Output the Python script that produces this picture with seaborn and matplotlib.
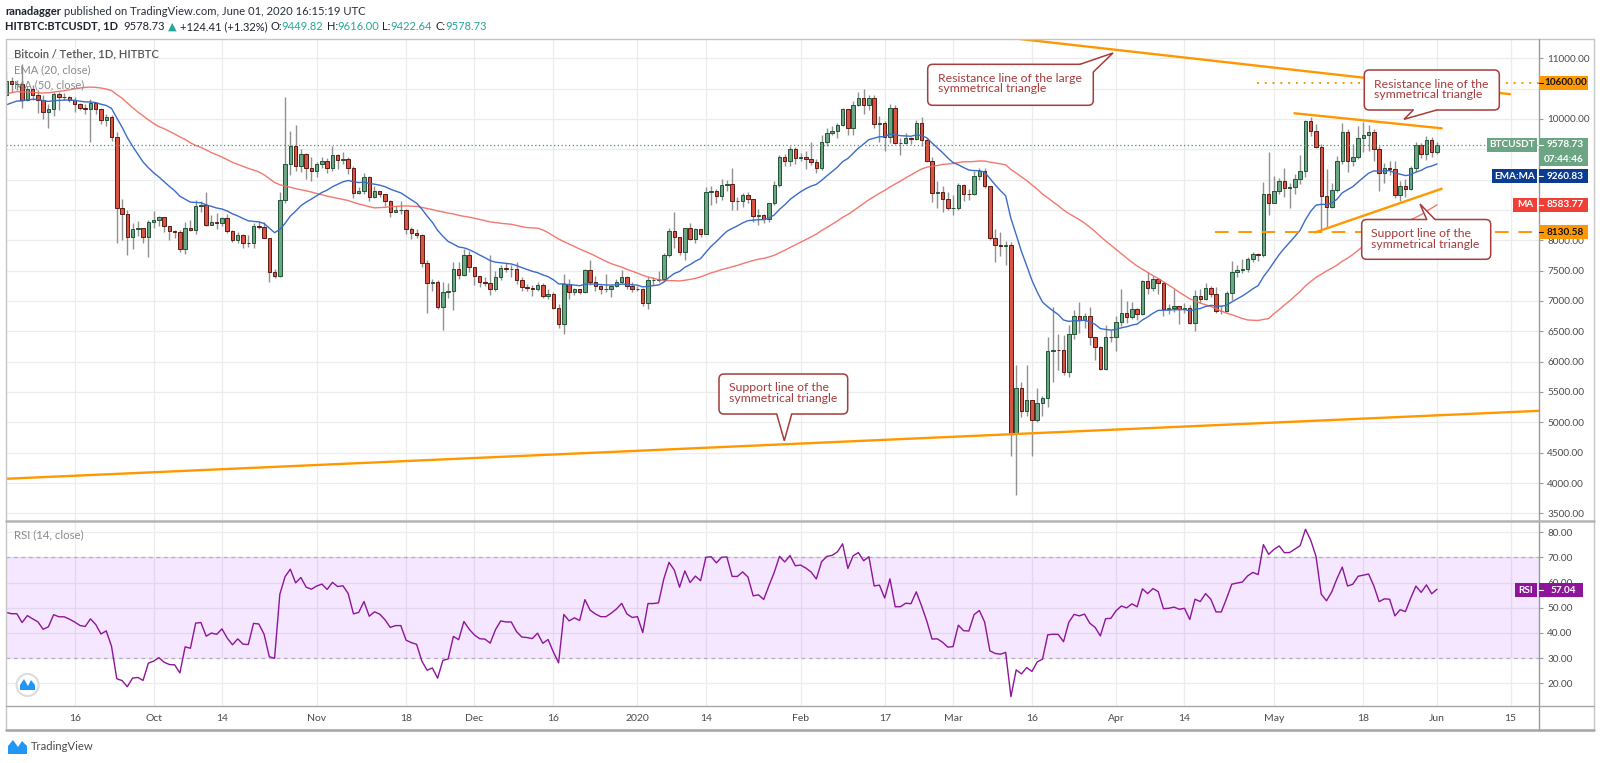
import numpy as np
import pandas as pd
import matplotlib
matplotlib.use("Agg")
import matplotlib.pyplot as plt
import seaborn as sns
from matplotlib.patches import FancyBboxPatch, Polygon, Rectangle, Circle

START = pd.Timestamp("2019-09-03")

# closes Jul 15 - Sep 2 2019 (before the visible window, only to warm up EMA / MA / RSI)
warmup_close = [10860, 9430, 9670, 10630, 10530, 10760, 10590, 10330, 9910, 9840, 9770, 9880, 9470, 9530, 9500, 9590, 10090,
                10400, 10530, 10820, 10980, 11790, 11470, 11980, 11970, 11850, 11280, 11530, 11380, 10880, 10020, 10300, 10360,
                10230, 10340, 10920, 10760, 10130, 10400, 10520, 10140, 10140, 10370, 10190, 9710, 9630, 9600, 9610,
                9760, 10390]

# daily candles Sep 3 2019 - Jun 1 2020, one row per month (open = previous close)
close = [
    10620, 10580, 10580, 10320, 10490, 10400, 10320, 10110, 10160, 10410, 10360, 10360, 10310, 10250, 10180, 10160, 10270, 10170, 9990, 10030, 9710, 8530, 8430, 8060, 8190, 8200, 8050, 8300,
    8330, 8380, 8230, 8150, 8140, 7860, 8210, 8170, 8570, 8580, 8260, 8310, 8280, 8360, 8160, 8000, 8080, 7960, 7950, 8230, 8220, 8030, 7470, 7420, 8660, 9250, 9550, 9230, 9430, 9200, 9150,
    9250, 9310, 9200, 9400, 9320, 9340, 9200, 8780, 8810, 9040, 8720, 8810, 8760, 8640, 8470, 8500, 8500, 8180, 8120, 8080, 7620, 7290, 7320, 6900, 7150, 7170, 7520, 7430, 7750, 7560,
    7410, 7310, 7300, 7200, 7400, 7540, 7520, 7520, 7340, 7230, 7220, 7200, 7260, 7080, 7120, 6880, 6620, 7280, 7150, 7200, 7150, 7510, 7320, 7250, 7200, 7200, 7250, 7310, 7390, 7240, 7190,
    7200, 6960, 7350, 7350, 7360, 7760, 8150, 8050, 7810, 8200, 8020, 8180, 8110, 8800, 8820, 8730, 8910, 8920, 8640, 8640, 8750, 8680, 8400, 8420, 8350, 8610, 8910, 9380, 9300, 9505, 9360,
    9380, 9340, 9290, 9200, 9615, 9770, 9800, 9900, 10160, 9850, 10230, 10340, 10230, 10350, 9910, 9930, 9710, 10175, 9600, 9600, 9680, 9670, 9935, 9660, 9310, 8785, 8790, 8685, 8530,
    8540, 8910, 8770, 8760, 9060, 9140, 8890, 8030, 7930, 7900, 7930, 4800, 5560, 5180, 5370, 5040, 5320, 5400, 6180, 6200, 6190, 5830, 6460, 6750, 6690, 6750, 6400, 6240, 5880, 6400, 6410,
    6650, 6800, 6740, 6860, 6780, 7330, 7210, 7370, 7300, 6870, 6880, 6910, 6860, 6880, 6630, 7080, 7030, 7220, 7110, 6840, 6840, 7125, 7480, 7510, 7535, 7690, 7780, 7750, 8770, 8610,
    8820, 8975, 8870, 8880, 9010, 9140, 9970, 9800, 9535, 8725, 8550, 8830, 9305, 9790, 9300, 9370, 9690, 9735, 9780, 9510, 9105, 9190, 9180, 8740, 8900, 8850, 9200, 9565, 9420, 9650, 9449.82,
    9578.73,
]
high = [
    10790, 10690, 10640, 10900, 10540, 10560, 10480, 10390, 10250, 10450, 10440, 10420, 10380, 10360, 10270, 10250, 10330, 10270, 10180, 10090, 10070, 9780, 8680, 8500, 8290, 8320, 8210, 8330,
    8490, 8400, 8390, 8230, 8170, 8170, 8300, 8330, 8670, 8650, 8790, 8420, 8450, 8390, 8430, 8170, 8130, 8110, 8090, 8290, 8320, 8310, 8040, 7520, 8790, 10370, 9800, 9900, 9500, 9440, 9380,
    9290, 9370, 9360, 9560, 9430, 9450, 9370, 9230, 8880, 9110, 9060, 8900, 8810, 8770, 8660, 8560, 8640, 8510, 8220, 8190, 8100, 7670, 7360, 7340, 7310, 7300, 7650, 7650, 7860, 7830,
    7560, 7420, 7400, 7760, 7490, 7600, 7630, 7600, 7640, 7390, 7280, 7270, 7310, 7300, 7190, 7140, 6950, 7440, 7370, 7220, 7200, 7520, 7680, 7420, 7270, 7440, 7270, 7360, 7510, 7420, 7320,
    7250, 7210, 7400, 7390, 7500, 7790, 8210, 8460, 8040, 8200, 8280, 8200, 8190, 8880, 8900, 8840, 9010, 8990, 9200, 8720, 8780, 8800, 8680, 8520, 8440, 8620, 8980, 9400, 9420, 9560, 9530,
    9440, 9470, 9620, 9340, 9740, 9850, 9880, 9940, 10180, 10150, 10290, 10440, 10500, 10390, 10390, 10050, 9960, 10250, 10230, 9680, 9770, 9700, 9990, 10030, 9680, 9380, 8980, 8890, 8790,
    8750, 8950, 8920, 8850, 9140, 9190, 9200, 8900, 8180, 8140, 7990, 7970, 5950, 5660, 5950, 5370, 5560, 5440, 6400, 6900, 6450, 6440, 6600, 6850, 6980, 6800, 6900, 6300, 6260, 6600, 6520,
    6750, 7200, 7000, 6990, 6880, 7350, 7480, 7420, 7380, 7320, 6950, 7200, 6920, 6970, 6930, 7180, 7200, 7300, 7240, 7230, 6940, 7160, 7660, 7600, 7690, 7720, 7800, 7790, 8960, 9450,
    9060, 9030, 9190, 8950, 9100, 9400, 9990, 10030, 9910, 9580, 9170, 8950, 9390, 9930, 9840, 9590, 9890, 9950, 9900, 9830, 9560, 9270, 9310, 9300, 8980, 9010, 9230, 9620, 9600, 9720, 9700,
    9616.00,
]
low = [
    10380, 10450, 10480, 10180, 10300, 10320, 10100, 10000, 9850, 10050, 10150, 10310, 10280, 10110, 10140, 10080, 9620, 10080, 9920, 9880, 9640, 7950, 8000, 7750, 7860, 8070, 7950, 7720,
    8200, 8230, 8140, 8000, 8040, 7800, 7780, 8150, 8100, 8460, 8230, 8260, 8190, 8240, 8120, 7970, 7960, 7880, 7890, 7880, 8180, 8030, 7320, 7380, 7400, 8620, 9080, 9150, 9120, 9010, 8980,
    9050, 9200, 9110, 9150, 9180, 9250, 9100, 8700, 8770, 8760, 8650, 8700, 8720, 8570, 8380, 8470, 8440, 8100, 8020, 8040, 7560, 6800, 7160, 6860, 6520, 7050, 6850, 7360, 7420, 7480,
    7260, 7230, 7250, 7100, 7170, 7350, 7480, 7400, 7280, 7170, 7160, 7080, 7170, 7050, 7030, 6860, 6560, 6450, 7030, 7100, 7110, 7130, 7270, 7160, 7120, 7150, 7060, 7230, 7280, 7200, 7150,
    7170, 6920, 6870, 7270, 7310, 7350, 7720, 7880, 7760, 7680, 8000, 7960, 8050, 8110, 8580, 8610, 8660, 8810, 8500, 8500, 8550, 8620, 8300, 8250, 8290, 8300, 8580, 8880, 9220, 9220, 9250,
    9310, 9170, 9240, 9110, 9160, 9550, 9730, 9690, 9880, 9740, 9730, 10220, 10080, 10140, 9850, 9620, 9470, 9610, 9590, 9410, 9580, 9580, 9650, 9560, 9290, 8630, 8530, 8460, 8500,
    8410, 8500, 8650, 8670, 8750, 8990, 8860, 8000, 7640, 7740, 7600, 4450, 3800, 5080, 5100, 4450, 5000, 5100, 5260, 5670, 5860, 5780, 5740, 6380, 6480, 6560, 6270, 6030, 5860, 5860, 6330,
    6170, 6580, 6640, 6700, 6680, 6770, 7110, 7160, 7120, 6750, 6780, 6820, 6620, 6800, 6620, 6510, 6960, 7020, 7060, 6800, 6780, 6820, 7020, 7400, 7460, 7470, 7650, 7660, 7720, 8420,
    8620, 8760, 8720, 8540, 8760, 8930, 9050, 9720, 9520, 8130.58, 8200, 8540, 8800, 9260, 9130, 9220, 9340, 9460, 9480, 9300, 8820, 8950, 9070, 8700, 8640, 8710, 8830, 9120, 9350, 9320, 9380,
    9422.64,
]

tick_dates = ["2019-09-16", "2019-10-01", "2019-10-14", "2019-11-01", "2019-11-18", "2019-12-01", "2019-12-16",
              "2020-01-01", "2020-01-14", "2020-02-01", "2020-02-17", "2020-03-01", "2020-03-16", "2020-04-01",
              "2020-04-14", "2020-05-01", "2020-05-18", "2020-06-01", "2020-06-15"]
tick_labels = ["16", "Oct", "14", "Nov", "18", "Dec", "16", "2020", "14", "Feb", "17", "Mar", "16", "Apr",
               "14", "May", "18", "Jun", "15"]
# price labels that sit under the coloured value tags on the axis
hidden_prices = [10500, 9500, 9000, 8500]

# drawings on the chart, (day index, price)
big_res_x, big_res_y = [189, 285.9], [11354, 10409]
big_sup_x, big_sup_y = [-1, 292], [4066, 5192]
tri_res_x, tri_res_y = [244.9, 272.9], [10094, 9846]
tri_sup_x, tri_sup_y = [248.8, 272.9], [8130, 8850]
level_lo, level_lo_from = 8130.58, 229.8
level_hi, level_hi_from = 10600.00, 237.8
last_price, ema_last, ma_last, rsi_last = 9578.73, 9260.83, 8583.77, 57.04

# ---- indicators ----
allc = pd.Series(warmup_close + close, dtype=float)
ema = allc.ewm(span=20, adjust=False).mean()
ma = allc.rolling(50).mean()
d = allc.diff()
gain = d.clip(lower=0).ewm(alpha=1 / 14, adjust=False).mean()
loss = (-d.clip(upper=0)).ewm(alpha=1 / 14, adjust=False).mean()
rsi = 100 - 100 / (1 + gain / loss)
nw = len(warmup_close)
ema, ma, rsi = ema.values[nw:], ma.values[nw:], rsi.values[nw:]

c = np.array(close, float)
o = allc.shift(1).values[nw:]
h = np.maximum(np.array(high, float), np.maximum(o, c))
l = np.minimum(np.array(low, float), np.minimum(o, c))
x = np.arange(len(c))

# ---- figure ----
sns.set_style("white")
plt.rcParams["font.family"] = ["Lato", "DejaVu Sans"]
fig = plt.figure(figsize=(16, 7.63), dpi=100)
W, H = 1600, 763
L, R = 6, 1539
ax = fig.add_axes([L / W, (H - 520.5) / H, (R - L) / W, 481.5 / H])
axr = fig.add_axes([L / W, (H - 706) / H, (R - L) / W, 184.5 / H])
XL = (-0.06, 291.4)
GRID = "#ececec"
LBL = "#4a4a4a"

# price panel
ax.set_xlim(*XL)
ax.set_ylim(3382, 11318)
ax.vlines(x, l, h, color="#909090", lw=1, zorder=2)
up = c >= o
ax.bar(x[up], (c - o)[up], bottom=o[up], width=0.66, color="#6ba583", edgecolor="#225437", lw=0.7, zorder=3)
ax.bar(x[~up], (o - c)[~up], bottom=c[~up], width=0.66, color="#d75442", edgecolor="#5b1a13", lw=0.7, zorder=3)
sns.lineplot(x=x, y=ma, ax=ax, color="#f26a60", lw=1.0, alpha=0.9, zorder=4)
sns.lineplot(x=x, y=ema, ax=ax, color="#3b6cc8", lw=1.0, zorder=4)
ax.axhline(last_price, color="#3d9a62", ls=(0, (1, 2)), lw=0.9, zorder=5)

org = "#ff9800"
for xs, ys in [(big_res_x, big_res_y), (big_sup_x, big_sup_y), (tri_res_x, tri_res_y), (tri_sup_x, tri_sup_y)]:
    ax.plot(xs, ys, color=org, lw=1.7, zorder=6, solid_capstyle="round")
ax.plot([level_lo_from, XL[1] + 1], [level_lo] * 2, color=org, lw=1.4, ls=(0, (7, 5)), zorder=6)
ax.plot([level_hi_from, XL[1] + 1], [level_hi] * 2, color=org, lw=1.4, ls=(0, (1, 3)), zorder=6)

ax.set_yticks(np.arange(3500, 11001, 500))
ax.yaxis.set_major_formatter(matplotlib.ticker.FuncFormatter(
    lambda v, pos: "" if round(v) in hidden_prices else f"{v:.2f}"))
ax.yaxis.tick_right()

# rsi panel
axr.set_xlim(*XL)
axr.set_ylim(10.98, 84.29)
axr.axhspan(30, 70, color="#9915ff", alpha=0.1, lw=0, zorder=1)
axr.axhline(70, color="#b9a9c4", ls=(0, (3, 3)), lw=0.9, zorder=2)
axr.axhline(30, color="#b9a9c4", ls=(0, (3, 3)), lw=0.9, zorder=2)
sns.lineplot(x=x, y=rsi, ax=axr, color="#8e1599", lw=1.0, zorder=4)
axr.set_yticks([20, 30, 40, 50, 60, 70, 80])
axr.yaxis.set_major_formatter(matplotlib.ticker.FormatStrFormatter("%.2f"))
axr.yaxis.tick_right()

tpos = [(pd.Timestamp(t) - START).days for t in tick_dates]
for a in (ax, axr):
    a.set_xticks(tpos)
    a.grid(True, color=GRID, lw=0.9)
    a.set_axisbelow(True)
    a.set_xlabel("")
    a.set_ylabel("")
    for s in a.spines.values():
        s.set_visible(False)
    a.tick_params(axis="y", length=3, width=0.8, color="#9a9a9a", pad=3, labelsize=7.2, labelcolor=LBL)
ax.tick_params(axis="x", length=0, labelbottom=False)
axr.set_xticklabels(tick_labels)
axr.tick_params(axis="x", length=0, pad=6, labelsize=7.5, labelcolor=LBL)

# ---- pixel overlay for frame, labels and callouts ----
ov = fig.add_axes([0, 0, 1, 1], zorder=10)
ov.set_xlim(0, W)
ov.set_ylim(H, 0)
ov.axis("off")
rend = fig.canvas.get_renderer()


def py(a, v):
    return H - a.transData.transform((0, v))[1]


def run_text(x0, y0, parts, size, width=None, zorder=30):
    def draw(sz):
        objs, cx = [], x0
        for s, col, wt, fam, gap in parts:
            t = ov.text(cx, y0, s, color=col, fontsize=sz, fontweight=wt, family=fam,
                        ha="left", va="center", zorder=zorder)
            objs.append(t)
            cx += t.get_window_extent(renderer=rend).width + gap * sz * 100 / 72
        return objs, cx - x0
    objs, w = draw(size)
    if width:
        for t in objs:
            t.remove()
        objs, w = draw(size * width / w)
    return objs[0].get_fontsize()


FAM = ["Lato", "DejaVu Sans"]
dark, teal = "#1e222d", "#26a69a"
run_text(5, 11.7, [("ranadagger", dark, "bold", FAM, 0.27),
                   ("published on TradingView.com, June 01, 2020 16:15:19 UTC", "#2a2e39", "normal", FAM, 0)],
         8, width=363)
run_text(5, 26.3, [("HITBTC:BTCUSDT, 1D", dark, "bold", FAM, 0.5),
                   ("9578.73", dark, "normal", FAM, 0.27),
                   ("\u25b2", teal, "normal", ["DejaVu Sans"], 0.27),
                   ("+124.41 (+1.32%)", dark, "normal", FAM, 0.27),
                   ("O:", dark, "normal", FAM, 0), ("9449.82", teal, "normal", FAM, 0.27),
                   ("H:", dark, "normal", FAM, 0), ("9616.00", teal, "normal", FAM, 0.27),
                   ("L:", dark, "normal", FAM, 0), ("9422.64", teal, "normal", FAM, 0.27),
                   ("C:", dark, "normal", FAM, 0), ("9578.73", teal, "normal", FAM, 0)],
         8, width=484)
run_text(14, 53.5, [("Bitcoin / Tether, 1D, HITBTC", "#555555", "semibold", FAM, 0)], 8, width=146)
run_text(14, 69.3, [("EMA (20, close)", "#8a8a8a", "normal", FAM, 0)], 8, width=77)
run_text(14, 84.3, [("MA (50, close)", "#8a8a8a", "normal", FAM, 0)], 8, width=70)
run_text(14, 535, [("RSI (14, close)", "#8a8a8a", "normal", FAM, 0)], 8, width=70)
run_text(31, 747, [("TradingView", "#4a4a4a", "normal", FAM, 0)], 8, width=63)

# frame
fr = "#c6c6c6"
ov.plot([5.5, 1594, 1594, 5.5, 5.5], [38.5, 38.5, 730, 730, 38.5], color=fr, lw=1, zorder=18)
ov.plot([R, R], [38.5, 730], color="#9a9a9a", lw=1, zorder=18)
ov.plot([5.5, 1594], [521, 521], color="#b4b4b4", lw=1.8, zorder=18)
ov.plot([5.5, 1594], [706, 706], color="#a6a6a6", lw=1, zorder=18)
ov.plot([5.5, 1594], [730, 730], color="#a6a6a6", lw=1.8, zorder=18)


def tag(x0, x1, yc, text, face, tcolor="white", dash=False):
    ov.add_patch(Rectangle((x0, yc - 7), x1 - x0, 14, facecolor=face, edgecolor="none", zorder=20))
    ov.text((x0 + x1) / 2 + (2 if dash else 0), yc, text, ha="center", va="center", color=tcolor,
            fontsize=7.2, fontweight="bold", zorder=21)
    if dash:
        ov.plot([R, R + 3.5], [yc, yc], color=tcolor, lw=0.8, zorder=21)


yp = py(ax, last_price)
tag(1539, 1588, py(ax, level_hi), "10600.00", org, "#111111", dash=True)
tag(1487, 1537, yp, "BTCUSDT", "#6ba583")
tag(1539, 1588, yp, f"{last_price:.2f}", "#6ba583", dash=True)
tag(1539, 1588, yp + 14.5, "07:44:46", "#6ba583")
tag(1492, 1537, py(ax, ema_last) + 12.5, "EMA:MA", "#0c3c92")
tag(1539, 1588, py(ax, ema_last) + 12.5, f"{ema_last:.2f}", "#0c3c92", dash=True)
tag(1513, 1537, py(ax, ma_last), "MA", "#f23f35")
tag(1539, 1588, py(ax, ma_last), f"{ma_last:.2f}", "#f23f35", dash=True)
tag(1539, 1588, py(ax, level_lo), "8130.58", org, "#111111", dash=True)
tag(1515, 1537, py(axr, rsi_last), "RSI", "#8e1599")
tag(1539, 1583, py(axr, rsi_last), f"{rsi_last:.2f}", "#8e1599", dash=True)

# callouts
RED = "#a63c3c"


def callout(box, tail, inner, lines, fs):
    x0, y0, x1, y1 = box
    ov.add_patch(FancyBboxPatch((x0, y0), x1 - x0, y1 - y0, boxstyle="round,pad=0,rounding_size=5",
                                facecolor="white", edgecolor=RED, lw=1.1, zorder=24))
    b1, tip, b2 = tail
    ov.add_patch(Polygon([inner[0], b1, tip, b2, inner[1]], closed=True, facecolor="white",
                         edgecolor="none", zorder=25))
    ov.plot([b1[0], tip[0], b2[0]], [b1[1], tip[1], b2[1]], color=RED, lw=1.1, zorder=26,
            solid_joinstyle="miter")
    for (tx, ty), s in lines:
        ov.text(tx, ty, s, color=RED, fontsize=fs, ha="left", va="center", zorder=27)


probe = ov.text(0, -50, "Resistance line of the large", fontsize=8)
cfs = 8 * 145 / probe.get_window_extent(renderer=rend).width
probe.remove()

callout((927.7, 64.3, 1093.3, 105.3), [(1080, 64.3), (1113, 53), (1093.3, 72)], [(1080, 66.5), (1091, 72)],
        [((937.7, 78.3), "Resistance line of the large"), ((937.7, 89.0), "symmetrical triangle")], cfs)
callout((1364.3, 70, 1499.3, 110), [(1413.3, 110), (1404, 119.3), (1436.7, 110)], [(1413.3, 108), (1436.7, 108)],
        [((1374, 84), "Resistance line of the"), ((1374, 94.5), "symmetrical triangle")], cfs)
callout((1361.7, 219.5, 1490.7, 259.3), [(1426.7, 219.5), (1420, 204), (1435, 219.5)], [(1426.7, 221.5), (1435, 221.5)],
        [((1370.7, 233.3), "Support line of the"), ((1370.7, 244), "symmetrical triangle")], cfs)
callout((719, 374, 847.7, 414), [(776.7, 414), (784.3, 440.7), (791.7, 414)], [(776.7, 412), (791.7, 412)],
        [((729.3, 387.3), "Support line of the"), ((729.3, 398.5), "symmetrical triangle")], cfs)

# tradingview marks
ov.add_patch(Circle((27.6, 685), 11, facecolor="white", edgecolor="#dcdcdc", lw=1.5, zorder=22))
ov.add_patch(Polygon([(20, 690), (20, 685), (24, 679), (28, 686), (31, 680), (35, 685), (35, 690)],
                     closed=True, facecolor="#2196f3", edgecolor="none", zorder=23))
ov.add_patch(Polygon([(8, 754), (8, 746), (13, 740), (18, 747), (22, 741), (27, 746), (27, 754)],
                     closed=True, facecolor="#2196f3", edgecolor="none", zorder=23))

fig.savefig("out.png", dpi=100, facecolor="white")
